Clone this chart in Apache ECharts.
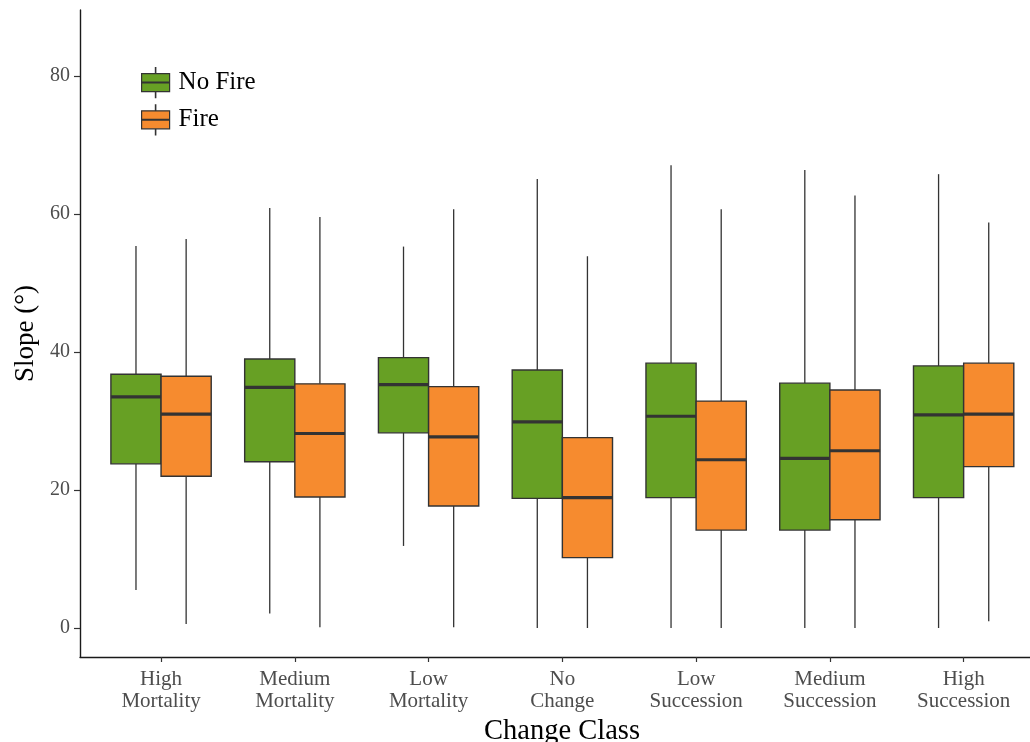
<!DOCTYPE html>
<html>
<head>
<meta charset="utf-8">
<title>Slope by Change Class</title>
<script src="https://cdn.jsdelivr.net/npm/echarts@6/dist/echarts.min.js"></script>
<style>
  html, body { margin: 0; padding: 0; background: #ffffff; }
  #chart { width: 1030px; height: 742px; }
</style>
</head>
<body>
<div id="chart"></div>
<script>
// Change classes along the x axis
const categories = [
  'High\nMortality', 'Medium\nMortality', 'Low\nMortality', 'No\nChange',
  'Low\nSuccession', 'Medium\nSuccession', 'High\nSuccession'
];

// Box statistics per class: [lower whisker, Q1, median, Q3, upper whisker]
const noFireBoxes = [
  [5.5, 23.8, 33.5, 36.8, 55.4],
  [2.1, 24.1, 34.9, 39.0, 60.9],
  [11.9, 28.3, 35.3, 39.2, 55.3],
  [0.0, 18.8, 29.9, 37.4, 65.1],
  [0.0, 18.9, 30.7, 38.4, 67.1],
  [0.0, 14.2, 24.6, 35.5, 66.4],
  [0.0, 18.9, 30.9, 38.0, 65.8]
];
const fireBoxes = [
  [0.6, 22.0, 31.0, 36.5, 56.4],
  [0.1, 19.0, 28.2, 35.4, 59.6],
  [0.1, 17.7, 27.7, 35.0, 60.7],
  [0.0, 10.2, 18.9, 27.6, 53.9],
  [0.0, 14.2, 24.4, 32.9, 60.7],
  [0.0, 15.7, 25.7, 34.5, 62.7],
  [1.0, 23.4, 31.0, 38.4, 58.8]
];

// Y axis tick values
const yTicks = [0, 20, 40, 60, 80];
// Category positions for x ticks
const xTicks = categories.map((_, i) => i);

const GREEN = '#67a024';
const ORANGE = '#f68b2f';
const EDGE = '#333333';
const FONT = '"Liberation Serif", "Times New Roman", serif';

// Dodged box geometry in category units
const BOX_W = 0.375;
const DODGE = 0.1875;

function boxRenderer(offset, fill) {
  return function (params, api) {
    const xc = api.value(0) + offset;
    const lo = api.value(1), q1 = api.value(2), med = api.value(3),
          q3 = api.value(4), hi = api.value(5);
    const topLeft = api.coord([xc - BOX_W / 2, q3]);
    const botRight = api.coord([xc + BOX_W / 2, q1]);
    const pHi = api.coord([xc, hi]);
    const pQ3 = api.coord([xc, q3]);
    const pQ1 = api.coord([xc, q1]);
    const pLo = api.coord([xc, lo]);
    const mL = api.coord([xc - BOX_W / 2, med]);
    const mR = api.coord([xc + BOX_W / 2, med]);
    const whisker = { stroke: EDGE, lineWidth: 1.3 };
    return {
      type: 'group',
      children: [
        { type: 'line', shape: { x1: pHi[0], y1: pHi[1], x2: pQ3[0], y2: pQ3[1] }, style: whisker },
        { type: 'line', shape: { x1: pQ1[0], y1: pQ1[1], x2: pLo[0], y2: pLo[1] }, style: whisker },
        {
          type: 'rect',
          shape: { x: topLeft[0], y: topLeft[1], width: botRight[0] - topLeft[0], height: botRight[1] - topLeft[1] },
          style: { fill: fill, stroke: EDGE, lineWidth: 1.4 }
        },
        { type: 'line', shape: { x1: mL[0], y1: mL[1], x2: mR[0], y2: mR[1] }, style: { stroke: EDGE, lineWidth: 3.2 } }
      ]
    };
  };
}

function toSeriesData(boxes) {
  return boxes.map((b, i) => [i].concat(b));
}

// Legend key drawn as a small box with whiskers and a median bar
const KEY_ICON = 'path://M13.8,0h0.4v6h13.8v18h-13.8v6h-0.4v-6h-13.8v-18h13.8z M0,14.6h28v0.8h-28z';

const chart = echarts.init(document.getElementById('chart'), null, { renderer: 'canvas' });

chart.setOption({
  backgroundColor: '#ffffff',
  animation: false,
  grid: { left: 80, right: 0, top: 10, bottom: 85, outerBoundsMode: 'none' },
  legend: {
    orient: 'vertical',
    left: 141,
    top: 67,
    padding: 0,
    itemWidth: 28,
    itemHeight: 30,
    itemGap: 6,
    textStyle: { fontFamily: FONT, fontSize: 25, color: '#000000', padding: [0, 0, 0, 4] },
    data: [
      { name: 'No Fire', icon: KEY_ICON, itemStyle: { color: GREEN, borderColor: EDGE, borderWidth: 1.2 } },
      { name: 'Fire', icon: KEY_ICON, itemStyle: { color: ORANGE, borderColor: EDGE, borderWidth: 1.2 } }
    ]
  },
  xAxis: {
    type: 'value',
    min: -0.606,
    max: 6.496,
    name: 'Change Class',
    nameLocation: 'middle',
    nameGap: 57,
    nameTextStyle: { fontFamily: FONT, fontSize: 28.5, color: '#000000', padding: [0, 0, 0, 14] },
    axisLine: { show: true, onZero: false, lineStyle: { color: '#1a1a1a', width: 1.4 } },
    axisTick: { show: true, length: 5, customValues: xTicks, lineStyle: { color: EDGE, width: 1.2 } },
    axisLabel: {
      customValues: xTicks,
      formatter: (v) => categories[Math.round(v)],
      fontFamily: FONT,
      fontSize: 21,
      lineHeight: 22,
      color: '#4d4d4d',
      margin: 11
    },
    splitLine: { show: false }
  },
  yAxis: {
    type: 'value',
    min: -4.2,
    max: 89.6,
    name: 'Slope (°)',
    nameLocation: 'middle',
    nameGap: 40,
    nameTextStyle: { fontFamily: FONT, fontSize: 27, color: '#000000' },
    axisLine: { show: true, onZero: false, lineStyle: { color: '#1a1a1a', width: 1.4 } },
    axisTick: { show: true, length: 6, customValues: yTicks, lineStyle: { color: EDGE, width: 1.2 } },
    axisLabel: {
      customValues: yTicks,
      fontFamily: FONT,
      fontSize: 20,
      color: '#4d4d4d',
      margin: 10
    },
    splitLine: { show: false }
  },
  series: [
    {
      name: 'No Fire',
      type: 'custom',
      itemStyle: { color: GREEN },
      encode: { x: 0, y: [1, 2, 3, 4, 5] },
      renderItem: boxRenderer(-DODGE, GREEN),
      data: toSeriesData(noFireBoxes)
    },
    {
      name: 'Fire',
      type: 'custom',
      itemStyle: { color: ORANGE },
      encode: { x: 0, y: [1, 2, 3, 4, 5] },
      renderItem: boxRenderer(DODGE, ORANGE),
      data: toSeriesData(fireBoxes)
    }
  ]
});
</script>
</body>
</html>
